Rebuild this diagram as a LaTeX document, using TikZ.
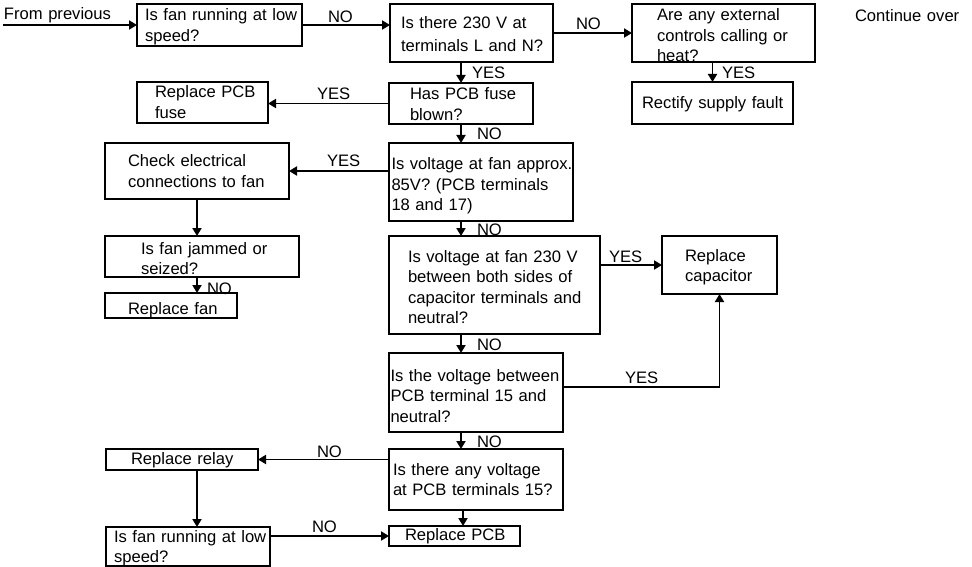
\documentclass[tikz,border=0pt]{standalone}
\usepackage{fontspec}
\setmainfont{Liberation Sans}
\usetikzlibrary{arrows.meta,calc}
\begin{document}
\begin{tikzpicture}[x=1pt,y=-1pt,
  box/.style={draw,line width=1.9pt,anchor=north west,inner sep=0pt,outer sep=0pt},
  txt/.style={anchor=base west,inner sep=0pt,outer sep=0pt,align=left,text width=260pt,font=\fontsize{16.6}{20.5}\selectfont},
  lbl/.style={anchor=base west,inner sep=0pt,outer sep=0pt,font=\fontsize{16.6}{20.5}\selectfont},
  conn/.style={line width=1.8pt,-{Triangle[length=8pt,width=9pt]}},
  wire/.style={line width=1.8pt}]
\useasboundingbox (0,0) rectangle (972,567);

% boxes
\node[box,minimum width=165pt,minimum height=42pt] (A) at (137,4) {};
\node[box,minimum width=163pt,minimum height=58pt] (B) at (390,4) {};
\node[box,minimum width=183pt,minimum height=58pt] (D) at (632,4) {};
\node[box,minimum width=161pt,minimum height=42pt] (E) at (632,82) {};
\node[box,minimum width=131pt,minimum height=41pt] (R) at (137,82) {};
\node[box,minimum width=144pt,minimum height=41pt] (C) at (389,83) {};
\node[box,minimum width=184pt,minimum height=56pt] (F) at (105,143) {};
\node[box,minimum width=184pt,minimum height=78pt] (G) at (389,143) {};
\node[box,minimum width=194pt,minimum height=41pt] (H) at (105,236) {};
\node[box,minimum width=132pt,minimum height=25pt] (I) at (105,293) {};
\node[box,minimum width=211pt,minimum height=98pt] (J) at (389,236) {};
\node[box,minimum width=115pt,minimum height=58pt] (K) at (662,236) {};
\node[box,minimum width=174pt,minimum height=79pt] (L) at (389,353) {};
\node[box,minimum width=174pt,minimum height=61pt] (M) at (389,449) {};
\node[box,minimum width=152pt,minimum height=21pt] (N) at (106,449) {};
\node[box,minimum width=164pt,minimum height=39pt] (O) at (106,527) {};
\node[box,minimum width=131pt,minimum height=20pt] (P) at (389,526) {};

% texts
\node[txt] (fpt) at (4,19.5) {From previous};
\node[txt] (At) at (145,21) {Is fan running at low\\speed?};
\node[txt] (Bt) at (401,29) {Is there 230 V at\\[2.5pt]terminals L and N?};
\node[txt] (Dt) at (657,21) {Are any external\\controls calling or\\heat?};
\node[txt] (Et) at (642,109) {Rectify supply fault};
\node[txt] (Rt) at (155,98) {Replace PCB\\fuse};
\node[txt] (Ct) at (410,100) {Has PCB fuse\\blown?};
\node[txt] (Ft) at (128,167) {Check electrical\\connections to fan};
\node[txt] (Gt) at (391.5,170) {Is voltage at fan approx.\\85V? (PCB terminals\\18 and 17)};
\node[txt] (Ht) at (141,254) {Is fan jammed or\\seized?};
\node[txt] (It) at (128,314) {Replace fan};
\node[txt] (Jt) at (408,262) {Is voltage at fan 230 V\\between both sides of\\capacitor terminals and\\neutral?};
\node[txt] (Kt) at (685,261) {Replace\\capacitor};
\node[txt] (Lt) at (390.5,381) {Is the voltage between\\PCB terminal 15 and\\neutral?};
\node[txt] (Mt) at (393,475) {Is there any voltage\\at PCB terminals 15?};
\node[txt] (Nt) at (131,464) {Replace relay};
\node[txt] (Ot) at (114,542) {Is fan running at low\\speed?};
\node[txt] (Pt) at (405,540) {Replace PCB};
\node[txt] (cot) at (855,22) {Continue over};

% connector labels
\node[lbl] (l1) at (328,23) {NO};
\node[lbl] (l2) at (576,30) {NO};
\node[lbl] (l3) at (722,79) {YES};
\node[lbl] (l4) at (472,79) {YES};
\node[lbl] (l5) at (317,100) {YES};
\node[lbl] (l6) at (477,140) {NO};
\node[lbl] (l7) at (327,167) {YES};
\node[lbl] (l8) at (207,294) {NO};
\node[lbl] (l9) at (477,235) {NO};
\node[lbl] (l10) at (609,262) {YES};
\node[lbl] (l11) at (477,350) {NO};
\node[lbl] (l12) at (625,383) {YES};
\node[lbl] (l13) at (477,447) {NO};
\node[lbl] (l14) at (317,457) {NO};
\node[lbl] (l15) at (312,532) {NO};

% coordinates
\coordinate (fp) at (3,25);
\coordinate (col) at (461,0);
\coordinate (col2) at (197,0);
\coordinate (col3) at (463,0);

% connectors
\draw[conn] (fp) -- (A.west);
\draw[conn] (A.east) -- (A.east -| B.west);
\draw[conn] (B.east) -- (D.west);
\draw[conn] (E.north |- D.south) -- (E.north);
\draw[conn] (col |- B.south) -- (col |- C.north);
\draw[conn] (C.west) -- (C.west -| R.east);
\draw[conn] (col |- C.south) -- (col |- G.north);
\draw[conn] (G.west |- F.east) -- (F.east);
\draw[conn] (col2 |- F.south) -- (col2 |- H.north);
\draw[conn] (col2 |- H.south) -- (col2 |- I.north);
\draw[conn] (col |- G.south) -- (col |- J.north);
\draw[conn] (J.east |- K.west) -- (K.west);
\draw[conn] (col |- J.south) -- (col |- L.north);
\draw[conn] ([yshift=5.5pt]L.east) -| (K.south);
\draw[conn] (col |- L.south) -- (col |- M.north);
\draw[conn] (M.west |- N.east) -- (N.east);
\draw[conn] (col2 |- N.south) -- (col2 |- O.north);
\draw[conn] (O.east |- P.west) -- (P.west);
\draw[conn] (col3 |- M.south) -- (col3 |- P.north);
\end{tikzpicture}
\end{document}
